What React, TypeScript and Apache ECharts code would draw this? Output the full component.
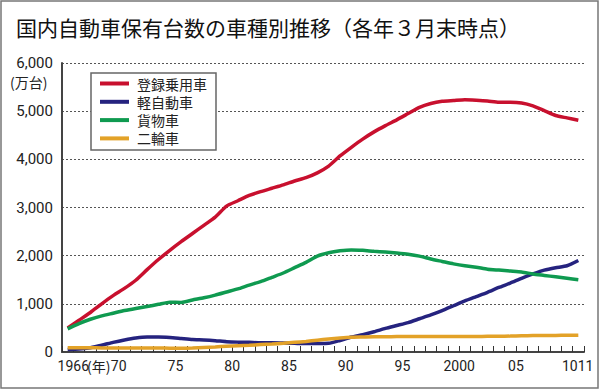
import React, { useEffect, useRef } from 'react';
import * as echarts from 'echarts';

const years = [
  '1966', '1967', '1968', '1969', '1970', '1971', '1972', '1973', '1974', '1975',
  '1976', '1977', '1978', '1979', '1980', '1981', '1982', '1983', '1984', '1985',
  '1986', '1987', '1988', '1989', '1990', '1991', '1992', '1993', '1994', '1995',
  '1996', '1997', '1998', '1999', '2000', '2001', '2002', '2003', '2004', '2005',
  '2006', '2007', '2008', '2009', '2010', '2011',
];

// 登録乗用車
const passenger = [
  500, 660, 820, 1000, 1170, 1320, 1490, 1710, 1920, 2110,
  2290, 2460, 2630, 2800, 3030, 3140, 3250, 3330, 3400, 3470,
  3550, 3620, 3720, 3860, 4070, 4250, 4420, 4570, 4700, 4820,
  4950, 5080, 5160, 5205, 5220, 5235, 5225, 5210, 5185, 5185,
  5170, 5110, 5010, 4910, 4860, 4810,
];

// 軽自動車
const kei = [
  50, 60, 90, 140, 200, 250, 290, 310, 310, 300,
  280, 260, 250, 235, 215, 205, 200, 190, 190, 185,
  180, 175, 175, 180, 240, 310, 360, 420, 490, 550,
  610, 690, 770, 860, 960, 1060, 1150, 1240, 1340, 1430,
  1530, 1620, 1700, 1750, 1790, 1900,
];

// 貨物車
const cargo = [
  480, 590, 680, 750, 805, 860, 905, 945, 990, 1035,
  1030, 1080, 1125, 1180, 1245, 1310, 1390, 1460, 1550, 1640,
  1750, 1860, 1990, 2060, 2100, 2120, 2110, 2090, 2075, 2055,
  2030, 1990, 1930, 1880, 1830, 1790, 1760, 1720, 1700, 1680,
  1660, 1620, 1590, 1560, 1530, 1500,
];

// 二輪車
const bike = [
  90, 90, 90, 85, 85, 85, 85, 85, 85, 80,
  80, 85, 95, 105, 120, 130, 140, 155, 165, 180,
  200, 220, 245, 270, 290, 305, 310, 315, 315, 320,
  320, 320, 320, 320, 320, 320, 322, 325, 328, 330,
  335, 340, 343, 345, 347, 350,
];

const seriesNames = ['登録乗用車', '軽自動車', '貨物車', '二輪車'];
const seriesColors = ['#c8102e', '#25237f', '#0f9a50', '#e3a228'];

// tick labels on the year axis ("10" and "11" sit side by side as "1011")
const tickYears = [1966, 1970, 1975, 1980, 1985, 1990, 1995, 2000, 2005, 2010];
const tickLabels = ['1966', '70', '75', '80', '85', '90', '95', '2000', '05', '1011'];

const CJK = '"Noto Sans CJK JP", "Noto Sans", sans-serif';

export default function App() {
  const ref = useRef<HTMLDivElement>(null);

  useEffect(() => {
    if (!ref.current) return;
    const chart = echarts.init(ref.current, null, { renderer: 'svg' });
    const data = [passenger, kei, cargo, bike];
    chart.setOption({
      animation: false,
      backgroundColor: '#ffffff',
      title: {
        text: '国内自動車保有台数の車種別推移（各年３月末時点）',
        left: 11,
        top: 11,
        textStyle: { fontFamily: CJK, fontSize: 21, fontWeight: 'normal', color: '#111' },
      },
      legend: {
        data: seriesNames,
        orient: 'vertical',
        left: 91,
        top: 73,
        padding: [2, 9, 3, 9],
        itemGap: 1.3,
        itemWidth: 29,
        itemHeight: 4,
        icon: 'rect',
        borderColor: '#666',
        borderWidth: 1.5,
        backgroundColor: '#fff',
        textStyle: { fontFamily: CJK, fontSize: 14, color: '#222', lineHeight: 17, padding: [0, 0, 0, 3] },
      },
      grid: { left: 62, right: 16, top: 63, bottom: 38, containLabel: false },
      xAxis: [
        {
          type: 'category',
          data: years,
          boundaryGap: true,
          axisLine: { show: false },
          axisTick: { show: false },
          axisLabel: { show: false },
          splitLine: { show: false },
        },
        {
          type: 'value',
          position: 'bottom',
          min: 1965,
          max: 2011,
          interval: 1,
          axisLine: { show: true, lineStyle: { color: '#444', width: 2 } },
          axisTick: { show: true, inside: true, length: 6, lineStyle: { color: '#333', width: 1 } },
          splitLine: { show: false },
          axisLabel: {
            margin: 7,
            fontFamily: '"Liberation Sans Narrow", Roboto, sans-serif',
            fontSize: 14,
            color: '#222',
            showMinLabel: true,
            showMaxLabel: true,
            formatter: (v: number) => {
              const i = tickYears.indexOf(Math.round(v));
              if (i < 0) return '';
              return i === tickLabels.length - 1 ? `{r|${tickLabels[i]}}` : tickLabels[i];
            },
            rich: {
              r: {
                fontFamily: '"Liberation Sans Narrow", Roboto, sans-serif',
                fontSize: 14,
                color: '#222',
                padding: [0, 0, 0, 10],
              },
            },
          },
        },
      ],
      yAxis: {
        type: 'value',
        min: 0,
        max: 6000,
        interval: 1000,
        axisLine: { show: true, lineStyle: { color: '#444', width: 2 } },
        axisTick: { show: false },
        splitLine: { show: true, lineStyle: { color: '#555', width: 1, type: [2, 2] } },
        axisLabel: {
          margin: 9,
          fontFamily: 'Roboto, sans-serif',
          fontSize: 15,
          color: '#222',
          formatter: (v: number) => v.toLocaleString('en-US'),
        },
      },
      graphic: [
        {
          type: 'rect',
          shape: { x: 1, y: 1, width: 597, height: 387 },
          style: { fill: 'none', stroke: '#777', lineWidth: 1.5 },
          silent: true,
        },
        {
          type: 'text',
          x: 10,
          y: 75,
          style: { text: '(万台)', font: `14px ${CJK}`, fill: '#222' },
        },
        {
          type: 'text',
          x: 87,
          y: 359,
          style: { text: '(年)', font: `14px ${CJK}`, fill: '#222' },
        },
      ],
      series: seriesNames.map((name, i) => ({
        name,
        type: 'line',
        xAxisIndex: 0,
        data: data[i],
        showSymbol: false,
        symbol: 'none',
        smooth: 0.2,
        lineStyle: { color: seriesColors[i], width: 3.5 },
        itemStyle: { color: seriesColors[i] },
      })),
    });
    return () => chart.dispose();
  }, []);

  return (
    <div
      ref={ref}
      style={{ position: 'absolute', left: 0, top: 0, width: 600, height: 390 }}
    />
  );
}
